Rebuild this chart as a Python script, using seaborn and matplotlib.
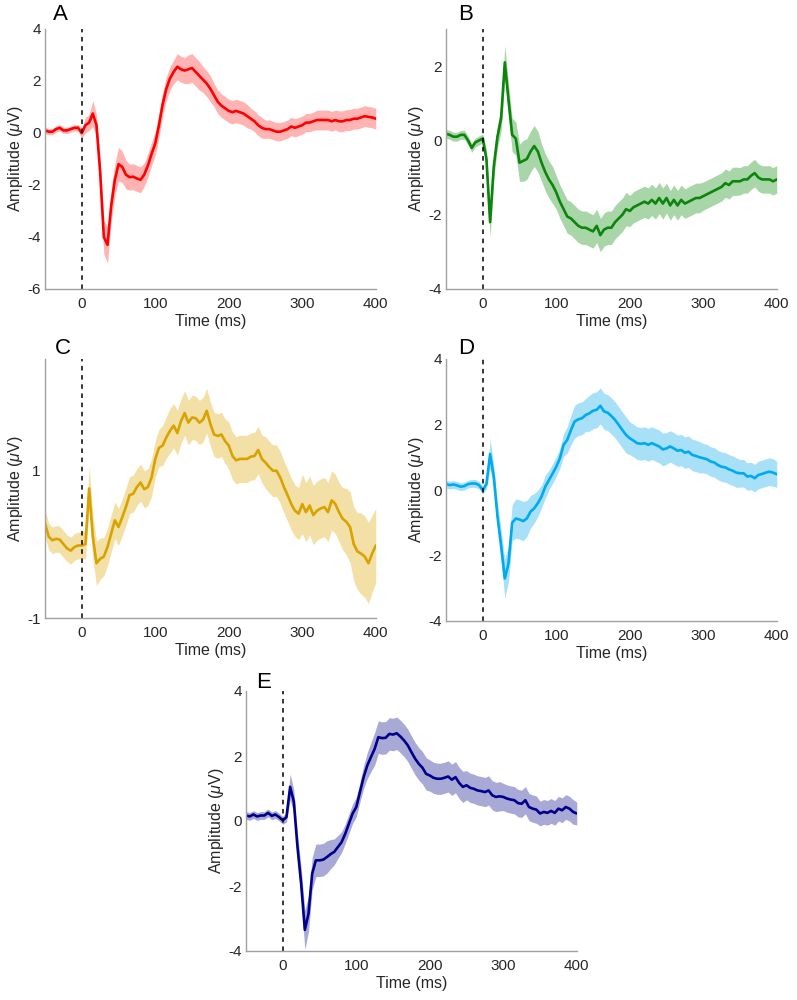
import numpy as np
import matplotlib
matplotlib.use("Agg")
import matplotlib.pyplot as plt
import seaborn as sns

# time axis (ms), sampled every 5 ms
time_ms = np.arange(-50, 401, 5)

# Panel A
mean_a = [0.10, 0.05, 0.05, 0.15, 0.20, 0.10, 0.10, 0.15, 0.20, 0.20,
          0.00, 0.30, 0.40, 0.75, 0.30, -1.50, -4.00, -4.30, -2.80, -1.80,
          -1.20, -1.30, -1.60, -1.70, -1.68, -1.75, -1.80, -1.60, -1.25, -0.80,
          -0.40, 0.30, 1.10, 1.70, 2.10, 2.35, 2.55, 2.45, 2.40, 2.45,
          2.50, 2.35, 2.20, 2.05, 1.90, 1.70, 1.45, 1.20, 1.05, 0.95,
          0.85, 0.80, 0.85, 0.80, 0.75, 0.65, 0.55, 0.45, 0.30, 0.20,
          0.15, 0.15, 0.10, 0.05, 0.05, 0.10, 0.15, 0.25, 0.20, 0.25,
          0.30, 0.40, 0.40, 0.45, 0.50, 0.50, 0.50, 0.50, 0.45, 0.50,
          0.45, 0.45, 0.50, 0.50, 0.55, 0.55, 0.60, 0.65, 0.62, 0.60,
          0.55]
sem_a = [0.12, 0.12, 0.12, 0.12, 0.12, 0.12, 0.12, 0.12, 0.12, 0.12,
         0.20, 0.30, 0.30, 0.50, 0.40, 0.50, 0.65, 0.70, 0.60, 0.60,
         0.65, 0.60, 0.55, 0.50, 0.50, 0.50, 0.50, 0.45, 0.45, 0.45,
         0.45, 0.45, 0.45, 0.45, 0.45, 0.45, 0.50, 0.50, 0.50, 0.55,
         0.55, 0.55, 0.55, 0.50, 0.50, 0.50, 0.45, 0.45, 0.45, 0.45,
         0.45, 0.45, 0.45, 0.45, 0.45, 0.45, 0.40, 0.40, 0.40, 0.40,
         0.35, 0.35, 0.35, 0.35, 0.35, 0.35, 0.35, 0.35, 0.35, 0.35,
         0.35, 0.35, 0.35, 0.35, 0.38, 0.38, 0.38, 0.38, 0.38, 0.38,
         0.40, 0.40, 0.40, 0.40, 0.40, 0.40, 0.40, 0.40, 0.40, 0.40,
         0.40]

# Panel B
mean_b = [0.18, 0.15, 0.10, 0.10, 0.15, 0.15, 0.00, -0.20, -0.05, 0.00,
          0.05, -0.50, -2.20, -0.70, 0.10, 0.60, 2.10, 1.10, 0.15, 0.05,
          -0.60, -0.55, -0.50, -0.30, -0.15, -0.30, -0.60, -0.85, -1.05, -1.20,
          -1.40, -1.65, -1.85, -2.05, -2.10, -2.20, -2.30, -2.35, -2.35, -2.40,
          -2.45, -2.30, -2.55, -2.40, -2.35, -2.35, -2.20, -2.10, -2.00, -1.85,
          -1.90, -1.80, -1.75, -1.70, -1.65, -1.70, -1.60, -1.70, -1.55, -1.70,
          -1.55, -1.75, -1.60, -1.75, -1.60, -1.70, -1.65, -1.60, -1.55, -1.55,
          -1.50, -1.45, -1.40, -1.35, -1.30, -1.25, -1.15, -1.20, -1.10, -1.10,
          -1.10, -1.05, -1.05, -0.95, -0.88, -1.00, -1.05, -1.05, -1.05, -1.10,
          -1.05]
sem_b = [0.12, 0.12, 0.12, 0.12, 0.12, 0.12, 0.12, 0.12, 0.12, 0.12,
         0.12, 0.25, 0.40, 0.35, 0.30, 0.35, 0.45, 0.45, 0.45, 0.45,
         0.50, 0.55, 0.55, 0.55, 0.55, 0.55, 0.50, 0.50, 0.50, 0.50,
         0.45, 0.45, 0.45, 0.45, 0.45, 0.45, 0.45, 0.45, 0.45, 0.45,
         0.45, 0.45, 0.45, 0.45, 0.45, 0.45, 0.45, 0.45, 0.45, 0.45,
         0.42, 0.42, 0.42, 0.42, 0.42, 0.42, 0.42, 0.42, 0.42, 0.42,
         0.40, 0.40, 0.40, 0.40, 0.40, 0.40, 0.40, 0.40, 0.40, 0.40,
         0.38, 0.38, 0.38, 0.38, 0.38, 0.38, 0.38, 0.38, 0.38, 0.38,
         0.37, 0.37, 0.37, 0.37, 0.37, 0.37, 0.37, 0.37, 0.37, 0.37,
         0.37]

# Panel C
mean_c = [0.28, 0.10, 0.05, 0.07, 0.06, 0.00, -0.06, -0.09, -0.04, -0.02,
          -0.02, 0.00, 0.75, 0.10, -0.26, -0.20, -0.17, -0.04, 0.14, 0.32,
          0.23, 0.36, 0.50, 0.66, 0.68, 0.77, 0.83, 0.74, 0.77, 0.90,
          1.15, 1.30, 1.33, 1.44, 1.53, 1.60, 1.50, 1.66, 1.77, 1.64,
          1.71, 1.70, 1.64, 1.68, 1.80, 1.62, 1.48, 1.46, 1.48, 1.39,
          1.33, 1.19, 1.13, 1.15, 1.15, 1.15, 1.18, 1.19, 1.27, 1.15,
          1.10, 1.04, 0.99, 0.99, 0.90, 0.77, 0.66, 0.54, 0.45, 0.41,
          0.54, 0.43, 0.52, 0.39, 0.45, 0.48, 0.50, 0.43, 0.59, 0.54,
          0.43, 0.34, 0.30, 0.23, 0.00, -0.10, -0.13, -0.17, -0.26, -0.13,
          -0.02]
sem_c = [0.18, 0.18, 0.18, 0.18, 0.18, 0.18, 0.18, 0.18, 0.18, 0.18,
         0.18, 0.20, 0.30, 0.30, 0.30, 0.28, 0.26, 0.25, 0.25, 0.25,
         0.25, 0.25, 0.25, 0.25, 0.25, 0.25, 0.25, 0.25, 0.25, 0.25,
         0.25, 0.25, 0.27, 0.28, 0.30, 0.30, 0.30, 0.30, 0.30, 0.30,
         0.30, 0.30, 0.30, 0.30, 0.30, 0.30, 0.30, 0.30, 0.30, 0.30,
         0.32, 0.32, 0.32, 0.32, 0.32, 0.32, 0.32, 0.32, 0.32, 0.32,
         0.35, 0.35, 0.35, 0.35, 0.35, 0.35, 0.35, 0.35, 0.35, 0.35,
         0.40, 0.40, 0.40, 0.40, 0.40, 0.40, 0.40, 0.40, 0.40, 0.40,
         0.40, 0.42, 0.45, 0.48, 0.50, 0.52, 0.55, 0.55, 0.55, 0.52,
         0.50]

# Panel D
mean_d = [0.18, 0.15, 0.17, 0.14, 0.10, 0.12, 0.18, 0.20, 0.20, 0.15,
          0.00, 0.18, 1.10, 0.40, -0.80, -1.70, -2.70, -2.25, -1.00, -0.87,
          -0.90, -0.95, -0.87, -0.66, -0.56, -0.40, -0.20, 0.10, 0.30, 0.50,
          0.71, 0.97, 1.38, 1.53, 1.83, 2.09, 2.16, 2.19, 2.29, 2.34,
          2.42, 2.45, 2.57, 2.40, 2.36, 2.26, 2.14, 1.99, 1.83, 1.68,
          1.58, 1.51, 1.43, 1.41, 1.43, 1.38, 1.43, 1.38, 1.33, 1.24,
          1.27, 1.33, 1.27, 1.20, 1.22, 1.14, 1.17, 1.07, 1.04, 1.00,
          0.97, 0.94, 0.87, 0.84, 0.76, 0.71, 0.69, 0.63, 0.59, 0.53,
          0.51, 0.51, 0.41, 0.43, 0.36, 0.46, 0.49, 0.53, 0.56, 0.53,
          0.48]
sem_d = [0.12, 0.12, 0.12, 0.12, 0.12, 0.12, 0.12, 0.12, 0.12, 0.12,
         0.12, 0.15, 0.45, 0.35, 0.40, 0.50, 0.60, 0.55, 0.55, 0.60,
         0.60, 0.60, 0.55, 0.50, 0.45, 0.40, 0.35, 0.35, 0.30, 0.30,
         0.30, 0.30, 0.35, 0.40, 0.45, 0.50, 0.50, 0.50, 0.50, 0.55,
         0.55, 0.55, 0.55, 0.55, 0.55, 0.55, 0.55, 0.55, 0.55, 0.55,
         0.50, 0.50, 0.50, 0.50, 0.50, 0.50, 0.50, 0.50, 0.50, 0.50,
         0.48, 0.48, 0.48, 0.48, 0.48, 0.48, 0.48, 0.48, 0.48, 0.48,
         0.45, 0.45, 0.45, 0.45, 0.45, 0.45, 0.45, 0.45, 0.45, 0.45,
         0.42, 0.42, 0.42, 0.42, 0.42, 0.42, 0.42, 0.42, 0.42, 0.42,
         0.40]

# Panel E
mean_e = [0.17, 0.14, 0.20, 0.14, 0.17, 0.17, 0.25, 0.16, 0.20, 0.12,
          0.02, 0.12, 1.05, 0.60, -0.80, -1.93, -3.35, -2.85, -1.62, -1.21,
          -1.21, -1.19, -1.11, -1.02, -0.95, -0.80, -0.65, -0.39, -0.08, 0.23,
          0.43, 0.89, 1.35, 1.71, 1.97, 2.22, 2.58, 2.55, 2.56, 2.68,
          2.66, 2.70, 2.60, 2.48, 2.33, 2.12, 1.92, 1.76, 1.64, 1.45,
          1.40, 1.33, 1.30, 1.30, 1.33, 1.37, 1.27, 1.35, 1.17, 1.05,
          1.10, 1.02, 0.99, 0.94, 0.92, 0.89, 0.94, 0.79, 0.74, 0.76,
          0.74, 0.69, 0.66, 0.64, 0.55, 0.53, 0.64, 0.43, 0.38, 0.35,
          0.23, 0.28, 0.25, 0.31, 0.25, 0.38, 0.33, 0.43, 0.38, 0.28,
          0.23]
sem_e = [0.12, 0.12, 0.12, 0.12, 0.12, 0.12, 0.12, 0.12, 0.12, 0.12,
         0.12, 0.15, 0.40, 0.35, 0.40, 0.50, 0.60, 0.55, 0.50, 0.50,
         0.50, 0.50, 0.50, 0.45, 0.40, 0.35, 0.32, 0.30, 0.30, 0.30,
         0.30, 0.30, 0.35, 0.40, 0.45, 0.50, 0.50, 0.50, 0.50, 0.50,
         0.50, 0.50, 0.50, 0.50, 0.50, 0.50, 0.50, 0.50, 0.50, 0.50,
         0.48, 0.48, 0.48, 0.48, 0.48, 0.48, 0.48, 0.48, 0.48, 0.48,
         0.45, 0.45, 0.45, 0.45, 0.45, 0.45, 0.45, 0.45, 0.45, 0.45,
         0.42, 0.42, 0.42, 0.42, 0.42, 0.42, 0.42, 0.42, 0.42, 0.42,
         0.38, 0.38, 0.38, 0.38, 0.38, 0.38, 0.38, 0.38, 0.38, 0.38,
         0.35]

panel_labels = ["A", "B", "C", "D", "E"]
line_colors = ["#ff0000", "#0b850b", "#d8a300", "#00aaee", "#00008b"]
fill_colors = ["#ffb3b3", "#a9d6a9", "#f3e0a6", "#a8e0f8", "#a9a9d6"]
y_limits = [(-6, 4), (-4, 3), (-1, 2.5), (-4, 4), (-4, 4)]
y_ticks = [[-6, -4, -2, 0, 2, 4], [-4, -2, 0, 2], [-1, 1], [-4, -2, 0, 2, 4], [-4, -2, 0, 2, 4]]
means = [mean_a, mean_b, mean_c, mean_d, mean_e]
sems = [sem_a, sem_b, sem_c, sem_d, sem_e]

sns.set_style("white")
plt.rcParams['font.family'] = ['Liberation Sans', 'DejaVu Sans']
plt.rcParams['axes.unicode_minus'] = False
plt.rcParams['mathtext.fontset'] = 'custom'
plt.rcParams['mathtext.it'] = 'Liberation Sans:italic'
plt.rcParams['mathtext.rm'] = 'Liberation Sans'

fig = plt.figure(figsize=(7.97, 10), dpi=100)
positions = [
    [0.0565, 0.711, 0.415, 0.260],
    [0.5596, 0.711, 0.415, 0.260],
    [0.0565, 0.382, 0.415, 0.259],
    [0.5596, 0.379, 0.415, 0.262],
    [0.3087, 0.049, 0.415, 0.260],
]
label_pos = [(0.0665, 0.985), (0.5746, 0.985), (0.0690, 0.652), (0.5746, 0.652), (0.3210, 0.318)]

for i in range(5):
    ax = fig.add_axes(positions[i])
    m = np.array(means[i])
    s = np.array(sems[i])
    ax.fill_between(time_ms, m - s, m + s, color=fill_colors[i], lw=0)
    sns.lineplot(x=time_ms, y=m, ax=ax, color=line_colors[i], lw=1.9)
    ax.axvline(0, color='black', ls=(0, (3, 3)), lw=1.1)
    ax.set_xlim(-50, 400)
    ax.set_ylim(*y_limits[i])
    ax.set_xticks([0, 100, 200, 300, 400])
    ax.set_yticks(y_ticks[i])
    ax.set_xlabel("Time (ms)", fontsize=11.5, color='#262626', labelpad=2)
    ax.set_ylabel(r"Amplitude ($\mu$V)", fontsize=11.5, color='#262626', labelpad=2)
    for side in ['top', 'right']:
        ax.spines[side].set_visible(False)
    for side in ['left', 'bottom']:
        ax.spines[side].set_color('#a0a0a0')
        ax.spines[side].set_linewidth(1.0)
    ax.tick_params(direction='in', length=3, width=0.8, colors='#a0a0a0',
                   labelcolor='#262626', labelsize=11)
    ax.tick_params(axis='x', pad=6)
    ax.tick_params(axis='y', pad=3)
    fig.text(label_pos[i][0], label_pos[i][1], panel_labels[i], fontsize=16,
             ha='left', va='center', color='black')

fig.savefig("out.png", dpi=100)
